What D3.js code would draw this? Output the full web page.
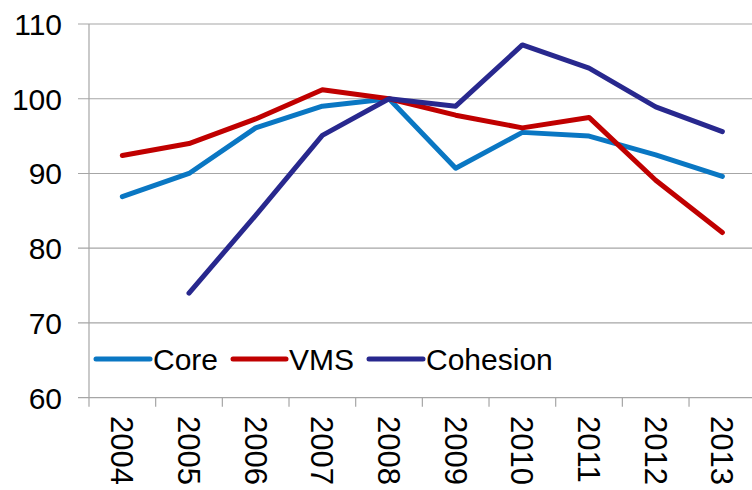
<!DOCTYPE html>
<html><head>
<meta charset="UTF-8">
<title>Core / VMS / Cohesion</title>
<script src="https://cdn.jsdelivr.net/npm/d3@7"></script>
<style>
  body { margin: 0; background: #fff; }
  svg text { font-family: "Liberation Sans", Arial, sans-serif; fill: #000; }
  .grid line { stroke: #a6a6a6; stroke-width: 1.2px; }
  .series { fill: none; stroke-width: 5px; stroke-linecap: round; stroke-linejoin: round; }
</style>
</head>
<body>
<div id="chart"></div>
<script>
// data
const years = ['2004','2005','2006','2007','2008','2009','2010','2011','2012','2013'];
const core     = [86.9, 90.0, 96.1, 99.0, 100, 90.7, 95.5, 95.0, 92.5, 89.6];
const vms      = [92.4, 94.0, 97.3, 101.2, 100, 97.8, 96.1, 97.5, 89.1, 82.1];
const cohesion = [null, 74.0, 84.4, 95.1, 100, 99.0, 107.2, 104.1, 98.9, 95.6];
const yTicks = [60, 70, 80, 90, 100, 110];

const seriesList = [
  {name: 'Core', values: core, color: '#0a77c3'},
  {name: 'VMS', values: vms, color: '#c00000'},
  {name: 'Cohesion', values: cohesion, color: '#28288e'}
];

const W = 752, H = 490;
const svg = d3.select('#chart').append('svg').attr('width', W).attr('height', H);

const x = d3.scaleBand().domain(years).range([89, 755.7]).padding(0);
const y = d3.scaleLinear().domain([60, 110]).range([397.7, 24]);

// gridlines (with small tick stubs left of the axis)
svg.append('g').attr('class', 'grid')
  .selectAll('line').data(yTicks).enter().append('line')
  .attr('x1', 78).attr('x2', W)
  .attr('y1', d => y(d)).attr('y2', d => y(d));

// vertical axis line
svg.append('line').attr('x1', 89).attr('x2', 89).attr('y1', y(110)).attr('y2', y(60))
  .attr('stroke', '#a6a6a6').attr('stroke-width', 1.2);

// y labels
svg.append('g').selectAll('text').data(yTicks).enter().append('text')
  .attr('x', 62).attr('y', d => y(d))
  .attr('dy', '0.36em')
  .attr('text-anchor', 'end')
  .style('font-size', '30px')
  .text(d => d);

// x ticks
const xEdges = years.map(d => x(d)).concat([x(years[years.length - 1]) + x.bandwidth()]);
svg.append('g').selectAll('line').data(xEdges).enter().append('line')
  .attr('x1', d => d).attr('x2', d => d)
  .attr('y1', y(60)).attr('y2', y(60) + 9)
  .attr('stroke', '#a6a6a6').attr('stroke-width', 1.2);

// x labels, rotated clockwise
svg.append('g').selectAll('text').data(years).enter().append('text')
  .attr('transform', d => `translate(${x(d) + x.bandwidth() / 2},416) rotate(90)`)
  .attr('dy', '0.36em')
  .attr('text-anchor', 'start')
  .style('font-size', '31px')
  .text(d => d);

// lines
const line = d3.line()
  .defined(d => d.v != null)
  .x(d => x(d.year) + x.bandwidth() / 2)
  .y(d => y(d.v));

seriesList.forEach(s => {
  svg.append('path')
    .attr('class', 'series')
    .attr('stroke', s.color)
    .attr('d', line(years.map((yr, i) => ({year: yr, v: s.values[i]}))));
});

// legend
const legendPos = [{x1: 96, x2: 150, tx: 153}, {x1: 233, x2: 286, tx: 289}, {x1: 369, x2: 423, tx: 426}];
const legend = svg.append('g');
seriesList.forEach((s, i) => {
  const p = legendPos[i];
  legend.append('line')
    .attr('x1', p.x1).attr('x2', p.x2).attr('y1', 359).attr('y2', 359)
    .attr('stroke', s.color).attr('stroke-width', 5).attr('stroke-linecap', 'round');
  legend.append('text')
    .attr('x', p.tx).attr('y', 359).attr('dy', '0.36em')
    .style('font-size', '30px')
    .text(s.name);
});
</script>
</body></html>
